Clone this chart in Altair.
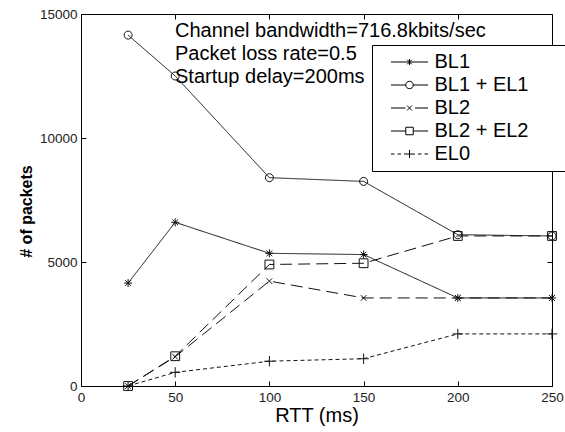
import altair as alt
import pandas as pd

# ---- data ----
rtt = [25, 50, 100, 150, 200, 250]
series_names = ["BL1", "BL1 + EL1", "BL2", "BL2 + EL2", "EL0"]
bl1 = [4150, 6600, 5350, 5300, 3550, 3550]
bl1_el1 = [14150, 12500, 8400, 8250, 6100, 6050]
bl2 = [0, 1180, 4230, 3550, 3550, 3550]
bl2_el2 = [0, 1200, 4900, 4950, 6050, 6050]
el0 = [0, 550, 1000, 1100, 2100, 2100]
x_ticks = [0, 50, 100, 150, 200, 250]
y_ticks = [0, 5000, 10000, 15000]
annotation_lines = ["Channel bandwidth=716.8kbits/sec", "Packet loss rate=0.5", "Startup delay=200ms"]

values = [bl1, bl1_el1, bl2, bl2_el2, el0]
rows = []
for name, vals in zip(series_names, values):
    for x, v in zip(rtt, vals):
        rows.append({"series": name, "rtt": x, "packets": v})
df = pd.DataFrame(rows)

FONT = "Liberation Sans"

# ---- styles ----
dash_range = [[1, 0], [1, 0], [12, 6], [12, 6], [4, 3]]
marker_paths = [
    "M-1,0H1M0,-1V1M-0.72,-0.72L0.72,0.72M-0.72,0.72L0.72,-0.72",
    "M-1,0A1,1 0 1,0 1,0A1,1 0 1,0 -1,0Z",
    "M-0.7,-0.7L0.7,0.7M-0.7,0.7L0.7,-0.7",
    "M-1.1,-1.1H1.1V1.1H-1.1Z",
    "M-1.3,0H1.3M0,-1.3V1.3",
]
legend_paths = [
    "M-3.7,0H3.7M0,-0.6V0.6M-0.45,-0.45L0.45,0.45M-0.45,0.45L0.45,-0.45",
    "M-3.7,0H-0.75M0.75,0H3.7M-0.75,0A0.75,0.75 0 1,0 0.75,0A0.75,0.75 0 1,0 -0.75,0Z",
    "M-3.7,0H-0.8M-0.5,-0.5L0.5,0.5M-0.5,0.5L0.5,-0.5M1.1,0H3.7",
    "M-3.7,0H-0.75M0.75,0H3.7M-0.75,-0.75H0.75V0.75H-0.75Z",
    "M-3.7,0H-3.0M-2.4,0H-1.7M-1.1,0H1.1M1.7,0H2.4M3.0,0H3.7M0,-0.8V0.8",
]

x_scale = alt.Scale(domain=[0, 250], nice=False, zero=False)
y_scale = alt.Scale(domain=[0, 15000], nice=False)

bottom_axis = alt.Axis(
    orient="bottom", values=x_ticks, format="d", offset=-5, tickSize=5,
    labelPadding=4, domain=False, grid=False, labelFlush=False,
    title="RTT (ms)", titleFontSize=20, titleFontWeight="normal", titleFont=FONT,
    titleColor="black", titleX=235.5, titleY=40, titleBaseline="alphabetic",
    titleAlign="center",
)
left_axis = alt.Axis(
    orient="left", values=y_ticks, format="d", offset=-5, tickSize=5,
    labelPadding=4, domain=False, grid=False, labelFlush=False,
    title="# of packets", titleFontSize=16, titleFontWeight="bold", titleFont=FONT,
    titleColor="black", titleX=-55, titleY=197, titleAngle=270,
    titleBaseline="alphabetic", titleAlign="center",
)
top_axis = alt.Axis(orient="top", values=x_ticks, offset=-5, tickSize=5, labels=False,
                    domain=False, grid=False, title=None)
right_axis = alt.Axis(orient="right", values=y_ticks, offset=-5, tickSize=5, labels=False,
                      domain=False, grid=False, title=None)

base = alt.Chart(df)

lines = base.mark_line(color="#111", strokeWidth=1).encode(
    x=alt.X("rtt:Q", scale=x_scale, axis=bottom_axis),
    y=alt.Y("packets:Q", scale=y_scale, axis=left_axis),
    strokeDash=alt.StrokeDash("series:N", scale=alt.Scale(domain=series_names, range=dash_range), legend=None),
)

markers = base.mark_point(filled=False, color="#111", size=64, opacity=1, strokeWidth=1).encode(
    x=alt.X("rtt:Q", axis=top_axis),
    y=alt.Y("packets:Q", axis=right_axis),
    shape=alt.Shape("series:N", scale=alt.Scale(domain=series_names, range=marker_paths), legend=None),
)

legend_layer = base.transform_filter("false").mark_point(
    filled=False, color="black", size=100, opacity=1, strokeWidth=1
).encode(
    x=alt.X("rtt:Q", axis=None),
    y=alt.Y("packets:Q", axis=None),
    shape=alt.Shape(
        "series:N",
        scale=alt.Scale(domain=series_names, range=legend_paths),
        legend=alt.Legend(
            orient="none", legendX=291, legendY=31, title=None,
            fillColor="white", strokeColor="black", padding=7,
            symbolSize=100, symbolOffset=20.5, labelOffset=15,
            labelFontSize=20, labelFont=FONT, labelColor="black",
            labelExpr="datum.label + '\u2800\u2800'",
            symbolStrokeColor="black", symbolFillColor="transparent",
            symbolStrokeWidth=1, rowPadding=3,
        ),
    ),
)

annot = alt.Chart(alt.Data(values=[{"k": 0}])).mark_text(
    align="left", baseline="alphabetic", font=FONT, fontSize=20, lineHeight=23, color="black"
).encode(
    x=alt.value(94), y=alt.value(22.5), text=alt.value(annotation_lines)
)

chart = (
    alt.layer(lines, markers, legend_layer, annot)
    .resolve_scale(shape="independent")
    .resolve_axis(x="independent", y="independent")
    .properties(
        width=471, height=372,
        autosize=alt.AutoSizeParams(type="none"),
        padding={"left": 81, "top": 14, "right": 13, "bottom": 46},
        background="white",
    )
    .configure_view(stroke="black", strokeWidth=1)
    .configure_axis(labelFont=FONT, labelFontSize=13.5, labelColor="#222",
                    tickColor="black", tickWidth=1)
)

chart.save("out.html", embed_options={"renderer": "svg", "actions": False})
